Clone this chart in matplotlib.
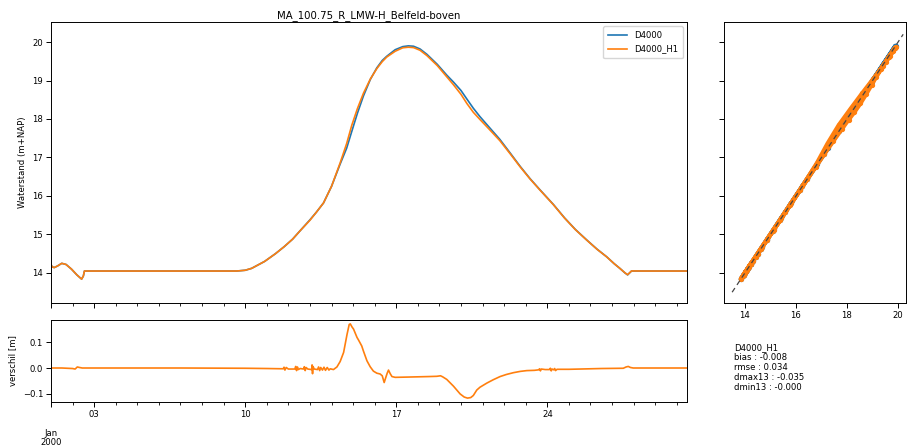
import numpy as np
import pandas as pd
import matplotlib
matplotlib.use("Agg")
import matplotlib.pyplot as plt
import matplotlib.ticker as mticker
import matplotlib.dates as mdates

plt.rcParams['font.family'] = ['DejaVu Sans']
plt.rcParams['font.size'] = 6.1

title = "MA_100.75_R_LMW-H_Belfeld-boven"
series_names = ["D4000", "D4000_H1"]

# days since 2000-01-01 00:00
main_days = [0.00, 0.05, 0.15, 0.30, 0.50, 0.70, 0.95, 1.20, 1.42, 1.50, 1.55, 8.60, 9.00, 9.30,
             9.90, 10.40, 10.80, 11.20, 11.55, 12.00, 12.30, 12.63, 13.00, 13.40, 13.70, 13.94,
             14.20, 14.48, 14.80, 15.10, 15.35, 15.56, 15.95, 16.30, 16.56, 16.80, 17.10, 17.42,
             17.90, 18.34, 18.65, 19.00, 19.27, 19.57, 19.88, 20.30, 20.80, 21.30, 21.74, 22.20,
             22.66, 23.28, 23.80, 24.30, 24.82, 25.30, 25.75, 26.10, 26.36, 26.60, 26.72, 26.90,
             27.50, 29.47]
d4000 = [14.22, 14.16, 14.14, 14.18, 14.25, 14.22, 14.10, 13.95, 13.84, 13.92, 14.05, 14.05, 14.07, 14.12,
         14.30, 14.50, 14.68, 14.88, 15.10, 15.38, 15.58, 15.82, 16.25, 16.83, 17.24, 17.68,
         18.15, 18.60, 19.03, 19.33, 19.52, 19.63, 19.80, 19.88, 19.90, 19.89, 19.82, 19.68,
         19.42, 19.14, 18.96, 18.74, 18.52, 18.28, 18.06, 17.79, 17.47, 17.10, 16.77, 16.45,
         16.16, 15.78, 15.43, 15.13, 14.86, 14.62, 14.42, 14.24, 14.12, 14.00, 13.95, 14.05,
         14.05, 14.05]
d4000_h1 = [14.22, 14.16, 14.14, 14.18, 14.25, 14.22, 14.10, 13.95, 13.84, 13.92, 14.05, 14.05, 14.07, 14.12,
            14.30, 14.50, 14.68, 14.88, 15.10, 15.37, 15.58, 15.82, 16.25, 16.86, 17.36, 17.84,
            18.27, 18.67, 19.04, 19.31, 19.49, 19.61, 19.76, 19.85, 19.865, 19.855, 19.786, 19.647,
            19.388, 19.096, 18.89, 18.64, 18.404, 18.174, 17.986, 17.738, 17.437, 17.08, 16.757, 16.441,
            16.153, 15.774, 15.425, 15.125, 14.856, 14.617, 14.418, 14.239, 14.119, 14.002, 13.955, 14.052,
            14.05, 14.05]

diff_days = [0.00, 0.50, 1.00, 1.12, 1.22, 1.32, 1.45, 6.00, 9.00, 10.00, 10.76, 10.80, 10.84, 10.90,
             11.00, 11.30, 11.34, 11.38, 11.42, 11.46, 11.55, 11.70, 11.74, 11.78, 11.82, 11.90,
             12.08, 12.10, 12.12, 12.14, 12.20, 12.35, 12.40, 12.45, 12.50, 12.58, 12.65, 12.72,
             12.80, 12.88, 12.94, 13.09, 13.25, 13.40, 13.56, 13.72, 13.82, 13.87, 13.95, 14.02,
             14.18, 14.25, 14.40, 14.48, 14.64, 14.79, 14.94, 15.10, 15.25, 15.35, 15.44, 15.52,
             15.58, 15.64, 15.72, 15.80, 15.95, 16.50, 17.00, 17.50, 17.88, 18.05, 18.15, 18.34,
             18.65, 18.96, 19.15, 19.30, 19.45, 19.57, 19.73, 19.88, 20.20, 20.50, 20.81, 21.10,
             21.43, 21.75, 22.05, 22.40, 22.60, 22.64, 22.68, 22.72, 22.90, 23.10, 23.14, 23.18,
             23.22, 23.30, 23.34, 23.38, 23.45, 24.00, 24.51, 25.50, 26.52, 26.65, 26.75, 26.85,
             26.98, 29.47]
verschil = [0.000, 0.000, -0.002, -0.004, 0.004, 0.002, 0.000, 0.000, -0.001, -0.002, -0.003, 0.003, -0.008, 0.002,
            -0.004, -0.004, 0.006, -0.010, 0.004, -0.006, -0.002, -0.004, 0.005, -0.010, 0.002, -0.004,
            -0.006, 0.012, -0.022, 0.006, -0.004, -0.006, 0.004, -0.010, 0.002, -0.008, 0.003, -0.009,
            0.002, -0.008, -0.003, -0.006, 0.004, 0.025, 0.060, 0.130, 0.168, 0.170, 0.158, 0.150,
            0.118, 0.108, 0.085, 0.065, 0.028, 0.005, -0.012, -0.020, -0.023, -0.030, -0.056, -0.035,
            -0.020, -0.008, -0.022, -0.033, -0.036, -0.035, -0.034, -0.033, -0.032, -0.030, -0.034, -0.044,
            -0.070, -0.100, -0.112, -0.116, -0.114, -0.106, -0.085, -0.074, -0.058, -0.045, -0.033, -0.025,
            -0.018, -0.013, -0.010, -0.009, -0.007, -0.003, -0.011, -0.004, -0.006, -0.006, -0.001, -0.011,
            -0.004, -0.007, -0.002, -0.010, -0.005, -0.005, -0.004, -0.002, -0.001, 0.004, 0.006, 0.002,
            0.000, 0.000]

stats_text = "D4000_H1\nbias : -0.008\nrmse : 0.034\ndmax13 : -0.035\ndmin13 : -0.000"

base = pd.Timestamp("2000-01-01")
t_main = base + pd.to_timedelta(main_days, unit="D")
t_diff = base + pd.to_timedelta(diff_days, unit="D")

C0, C1 = "#1f77b4", "#ff7f0e"

fig = plt.figure(figsize=(9.07, 4.48), dpi=100)
ax = fig.add_axes([0.0562, 0.3237, 0.7012, 0.6272])
ax2 = fig.add_axes([0.0562, 0.1027, 0.7012, 0.1830], sharex=ax)
ax3 = fig.add_axes([0.7982, 0.3237, 0.2007, 0.6272], sharey=ax)

ax.plot(t_main, d4000, color=C0, lw=1.2, label=series_names[0])
ax.plot(t_main, d4000_h1, color=C1, lw=1.2, label=series_names[1])
ax.set_ylim(13.22, 20.52)
ax.set_yticks([14, 15, 16, 17, 18, 19, 20])
ax.set_ylabel("Waterstand (m+NAP)")
ax.set_title(title, fontsize=7.3, pad=3)
ax.legend(loc="upper right", fontsize=6.1, handlelength=2.3, borderpad=0.55, labelspacing=0.55)

ax2.plot(t_diff, verschil, color=C1, lw=1.2)
ax2.set_ylim(-0.131, 0.185)
ax2.set_yticks([-0.1, 0.0, 0.1])
ax2.set_ylabel("verschil [m]")

ax2.set_xlim(base, base + pd.Timedelta(days=29.47))
major_days = [1, 3, 10, 17, 24]
major_ticks = [mdates.date2num(pd.Timestamp(2000, 1, d)) for d in major_days]
major_labels = ["\n\nJan\n2000", "03", "10", "17", "24"]
ax2.xaxis.set_major_locator(mticker.FixedLocator(major_ticks))
ax2.xaxis.set_major_formatter(mticker.FixedFormatter(major_labels))
ax2.xaxis.set_minor_locator(mdates.DayLocator())
ax2.xaxis.set_minor_formatter(mticker.NullFormatter())
plt.setp(ax.get_xticklabels(), visible=False)

for a in (ax, ax2, ax3):
    a.tick_params(which="major", length=3.5, width=0.7, pad=2)
    a.tick_params(which="minor", length=2, width=0.6)
    for s in a.spines.values():
        s.set_linewidth(0.7)

fig.canvas.draw()
for lbl in ax2.get_xticklabels():
    if "Jan" in lbl.get_text():
        lbl.set_linespacing(1.08)

# scatter
ax3.plot(d4000, d4000, color=C0, lw=3.2, marker="o", ms=2.8, solid_capstyle="round")
ax3.plot(d4000, d4000_h1, color=C1, lw=3.2, marker="o", ms=2.8, solid_capstyle="round")
ax3.plot([13.5, 20.2], [13.5, 20.2], color="#444444", lw=0.9, ls=(0, (4, 3)), zorder=5)
ax3.set_xlim(13.18, 20.31)
ax3.set_xticks([14, 16, 18, 20])
plt.setp(ax3.get_yticklabels(), visible=False)

fig.text(0.809, 1 - 343 / 448, stats_text, va="top", ha="left", fontsize=6.1, linespacing=1.15)

fig.savefig("out.png", dpi=100)
